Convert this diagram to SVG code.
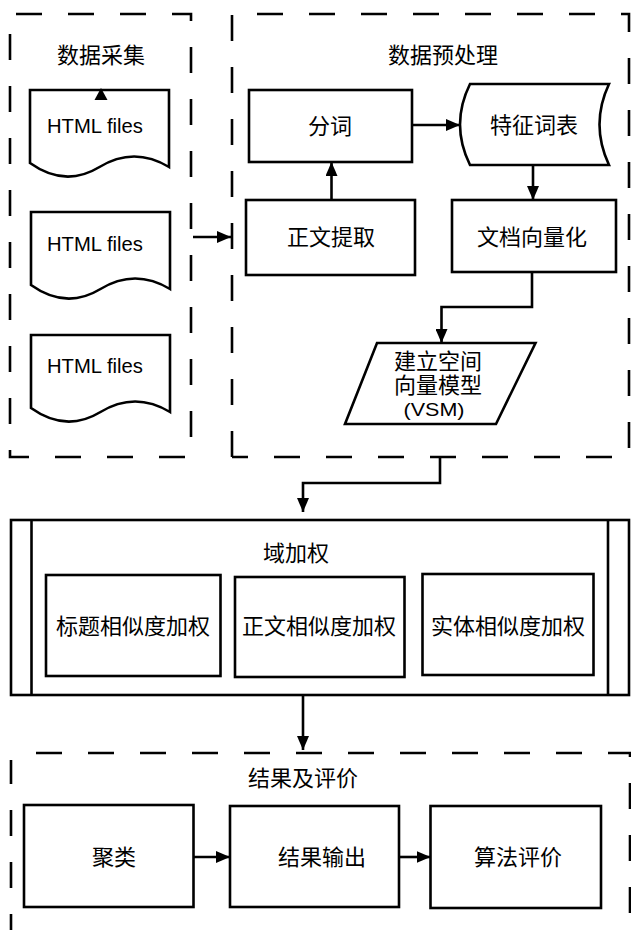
<svg xmlns="http://www.w3.org/2000/svg" width="631" height="930" viewBox="0 0 631 930">
<defs>
<marker id="ah" viewBox="0 0 14 12" refX="14" refY="6" markerWidth="14" markerHeight="12" markerUnits="userSpaceOnUse" orient="auto">
<path d="M0,0 L14,6 L0,12 Z" fill="#000"/>
</marker>
<path id="doc" d="M0,0 H139 V77 Q104,56 69.5,77 T0,73 Z"/>
</defs>
<style>
.box{fill:#fff;stroke:#000;stroke-width:2.6}
.dash{fill:none;stroke:#000;stroke-width:2.6;stroke-dasharray:26 26}
.ln{fill:none;stroke:#000;stroke-width:2.6}
.arr{fill:none;stroke:#000;stroke-width:2.6;marker-end:url(#ah)}
text{font-family:"Liberation Sans","Noto Sans CJK SC",sans-serif;font-size:22px;fill:#000;text-anchor:middle;dominant-baseline:central}
.en{font-size:21px}
.vsm{font-size:19px}
</style>
<rect width="631" height="930" fill="#fff"/>

<g id="group-collect">
<path class="dash" d="M16,14 H191 V457 H10 V14"/>
<text x="101" y="55">数据采集</text>
</g>
<g id="group-preprocess">
<path class="dash" d="M232,457 V14 H629 V457 H232"/>
<text x="443" y="55">数据预处理</text>
</g>

<g id="doc1">
<use href="#doc" x="30" y="90" class="box"/>
<polygon points="101,88 107.5,100 94.5,100" fill="#000"/>
<text class="en" x="95" y="125" textLength="96" lengthAdjust="spacingAndGlyphs">HTML files</text>
</g>
<g id="doc2">
<use href="#doc" x="31" y="212" class="box"/>
<text class="en" x="95" y="243" textLength="96" lengthAdjust="spacingAndGlyphs">HTML files</text>
</g>
<g id="doc3">
<use href="#doc" x="31" y="335" class="box"/>
<text class="en" x="95" y="365" textLength="96" lengthAdjust="spacingAndGlyphs">HTML files</text>
</g>

<g id="fenci">
<rect class="box" x="249" y="90" width="163" height="72"/>
<text x="330" y="126">分词</text>
</g>
<g id="tezheng">
<path class="box" d="M470,84 H609 Q590,124.5 609,165 H470 Q450,124.5 470,84 Z"/>
<text x="534" y="125">特征词表</text>
</g>
<g id="zhengwen">
<rect class="box" x="246" y="200" width="169" height="75"/>
<text x="331" y="237">正文提取</text>
</g>
<g id="wendang">
<rect class="box" x="452" y="200" width="164" height="72"/>
<text x="532" y="237">文档向量化</text>
</g>
<g id="vsm">
<path class="box" d="M377,343 H535.5 L496,424 H345 Z"/>
<text x="438" y="361">建立空间</text>
<text x="438" y="385">向量模型</text>
<text class="vsm" x="434" y="409" textLength="61" lengthAdjust="spacingAndGlyphs">(VSM)</text>
</g>

<g id="domain">
<rect class="box" x="11" y="520" width="618" height="175"/>
<line class="ln" x1="31.5" y1="520" x2="31.5" y2="695"/>
<line class="ln" x1="608" y1="520" x2="608" y2="695"/>
<text x="296" y="553">域加权</text>
</g>
<g id="title-w">
<rect class="box" x="46" y="575" width="174.5" height="101"/>
<text x="133" y="626">标题相似度加权</text>
</g>
<g id="body-w">
<rect class="box" x="235" y="577" width="169.5" height="100"/>
<text x="319" y="626">正文相似度加权</text>
</g>
<g id="entity-w">
<rect class="box" x="422.5" y="574" width="171" height="101"/>
<text x="508" y="626">实体相似度加权</text>
</g>

<g id="group-result">
<path class="dash" d="M36,753 H630 V940 M11,940 V760"/>
<text x="303" y="778">结果及评价</text>
</g>
<g id="julei">
<rect class="box" x="24" y="805" width="169.5" height="102"/>
<text x="114" y="857">聚类</text>
</g>
<g id="jieguo">
<rect class="box" x="230" y="806" width="169" height="101"/>
<text x="322" y="857">结果输出</text>
</g>
<g id="suanfa">
<rect class="box" x="430.5" y="806" width="170.5" height="102"/>
<text x="518" y="857">算法评价</text>
</g>

<g id="connectors">
<line class="arr" x1="412" y1="125" x2="460" y2="125"/>
<line class="arr" x1="331.5" y1="200" x2="331.5" y2="162"/>
<line class="arr" x1="533" y1="165" x2="533" y2="200"/>
<line class="arr" x1="193" y1="237" x2="231" y2="237"/>
<path class="arr" d="M532,272 V307 H441.5 V343"/>
<path class="arr" d="M440,457 V483 H303 V512"/>
<line class="arr" x1="303" y1="695" x2="303" y2="750"/>
<line class="arr" x1="193.5" y1="857" x2="230" y2="857"/>
<line class="arr" x1="399" y1="857" x2="430.5" y2="857"/>
</g>
</svg>
